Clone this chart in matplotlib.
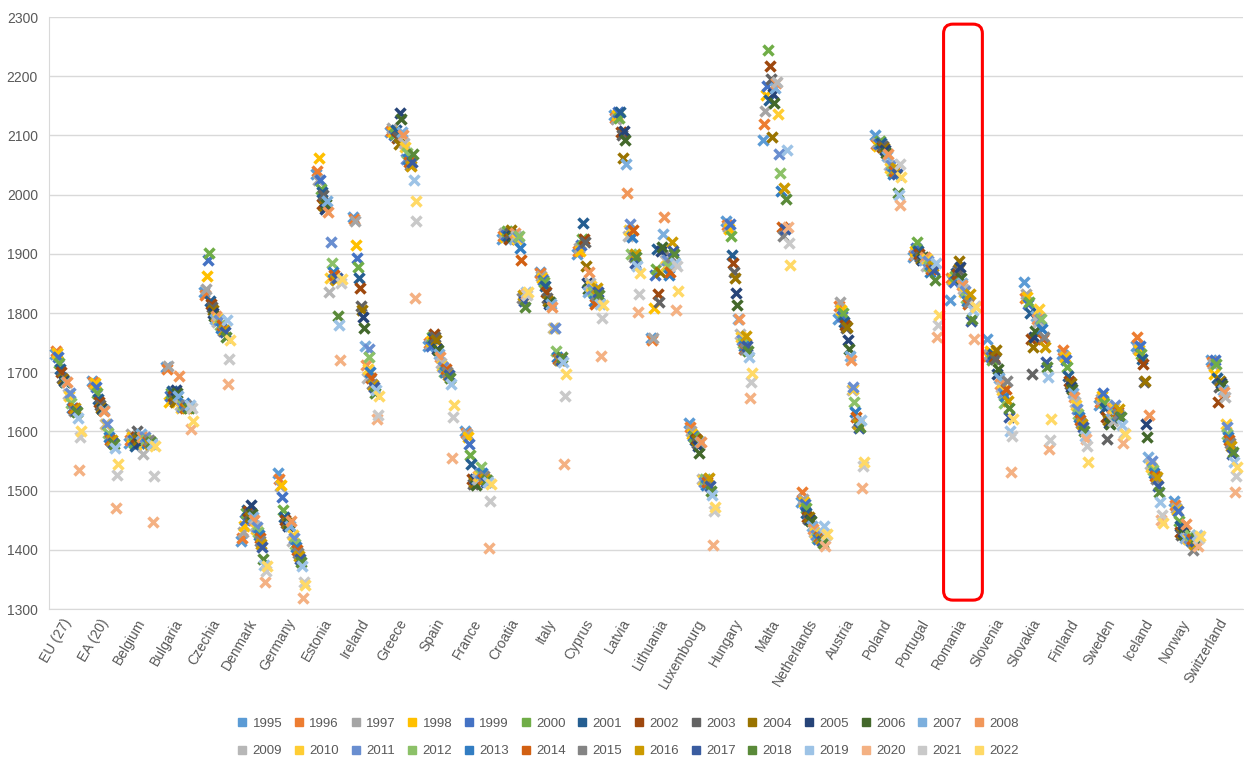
import numpy as np
import matplotlib
matplotlib.use("Agg")
import matplotlib.pyplot as plt
from matplotlib.lines import Line2D
from matplotlib.patches import FancyBboxPatch

# ── DATA ──────────────────────────────────────────────────────────────────────
countries = ["EU (27)", "EA (20)", "Belgium", "Bulgaria", "Czechia", "Denmark",
             "Germany", "Estonia", "Ireland", "Greece", "Spain", "France",
             "Croatia", "Italy", "Cyprus", "Latvia", "Lithuania", "Luxembourg",
             "Hungary", "Malta", "Netherlands", "Austria", "Poland", "Portugal",
             "Romania", "Slovenia", "Slovakia", "Finland", "Sweden", "Iceland",
             "Norway", "Switzerland"]
years = list(range(1995, 2023))

eu27 = [1730, 1735, 1732, 1733, 1725, 1715, 1705, 1700, 1690, 1688, 1685, 1683, 1683, 1683,
        1663, 1660, 1665, 1648, 1640, 1640, 1635, 1640, 1635, 1632, 1623, 1535, 1590, 1601]
ea20 = [1685, 1683, 1680, 1682, 1675, 1665, 1655, 1650, 1645, 1640, 1638, 1637, 1637, 1635,
        1613, 1612, 1612, 1598, 1590, 1585, 1583, 1585, 1580, 1578, 1572, 1470, 1527, 1545]
belgium = [1580, 1585, 1595, 1590, 1585, 1580, 1575, 1590, 1600, 1585, 1580, 1590, 1595, 1590,
           1562, 1578, 1590, 1585, 1580, 1583, 1585, 1578, 1580, 1582, 1578, 1447, 1525, 1575]
bulgaria = [1708, 1706, 1710, 1650, 1660, 1665, 1668, 1660, 1655, 1650, 1670, 1665, 1660, 1693,
            1645, 1640, 1642, 1645, 1648, 1640, 1645, 1640, 1642, 1640, 1645, 1604, 1640, 1618]
czechia = [1835, 1830, 1840, 1862, 1890, 1902, 1820, 1815, 1810, 1805, 1800, 1795, 1790, 1795,
           1785, 1790, 1788, 1780, 1775, 1780, 1770, 1772, 1768, 1760, 1789, 1680, 1722, 1755]
denmark = [1415, 1420, 1430, 1440, 1450, 1462, 1468, 1465, 1460, 1455, 1475, 1460, 1455, 1450,
           1440, 1435, 1438, 1430, 1425, 1420, 1415, 1410, 1405, 1385, 1375, 1345, 1365, 1372]
germany = [1530, 1520, 1508, 1510, 1490, 1467, 1455, 1450, 1445, 1445, 1440, 1445, 1440, 1449,
           1415, 1425, 1420, 1410, 1405, 1400, 1395, 1390, 1385, 1380, 1372, 1318, 1345, 1340]
estonia = [2035, 2040, 2025, 2062, 2025, 2010, 2005, 1985, 2000, 1980, 1975, 1985, 1990, 1970,
           1835, 1860, 1920, 1885, 1870, 1865, 1858, 1855, 1860, 1795, 1780, 1720, 1850, 1858]
ireland = [1962, 1958, 1955, 1915, 1893, 1878, 1860, 1842, 1812, 1805, 1793, 1774, 1745, 1712,
           1690, 1705, 1740, 1725, 1700, 1690, 1680, 1678, 1675, 1665, 1670, 1621, 1628, 1660]
greece = [2105, 2108, 2112, 2105, 2100, 2102, 2110, 2095, 2098, 2085, 2138, 2128, 2105, 2100,
          2088, 2080, 2060, 2070, 2060, 2055, 2050, 2048, 2055, 2068, 2025, 1826, 1955, 1990]
spain = [1745, 1750, 1748, 1752, 1745, 1760, 1758, 1765, 1760, 1755, 1740, 1738, 1730, 1725,
         1715, 1710, 1708, 1700, 1700, 1705, 1700, 1695, 1695, 1690, 1680, 1555, 1625, 1644]
france = [1600, 1598, 1595, 1590, 1578, 1560, 1545, 1520, 1512, 1515, 1520, 1510, 1520, 1525,
          1520, 1525, 1530, 1540, 1530, 1520, 1525, 1520, 1515, 1518, 1515, 1403, 1483, 1512]
croatia = [1925, 1930, 1935, 1928, 1932, 1938, 1930, 1925, 1935, 1940, 1930, 1928, 1925, 1935,
           1930, 1925, 1928, 1930, 1910, 1890, 1825, 1830, 1820, 1810, 1835, 1832, 1830, 1836]
italy = [1870, 1868, 1862, 1860, 1855, 1852, 1845, 1835, 1825, 1820, 1815, 1818, 1815, 1810,
         1775, 1775, 1775, 1735, 1725, 1722, 1720, 1720, 1720, 1725, 1718, 1545, 1660, 1697]
cyprus = [1900, 1905, 1910, 1905, 1915, 1925, 1952, 1925, 1920, 1880, 1850, 1840, 1835, 1870,
          1850, 1845, 1840, 1835, 1820, 1815, 1830, 1842, 1835, 1830, 1815, 1728, 1792, 1813]
latvia = [2135, 2130, 2128, 2135, 2140, 2130, 2140, 2105, 2100, 2062, 2108, 2092, 2052, 2002,
          1930, 1940, 1950, 1900, 1928, 1940, 1895, 1900, 1885, 1895, 1880, 1802, 1832, 1868]
lithuania = [1757, 1755, 1758, 1808, 1865, 1875, 1908, 1832, 1818, 1870, 1905, 1912, 1933, 1962,
             1890, 1880, 1890, 1880, 1865, 1870, 1895, 1920, 1905, 1900, 1885, 1805, 1880, 1838]
luxembourg = [1615, 1608, 1600, 1596, 1592, 1590, 1585, 1588, 1580, 1585, 1575, 1564, 1582, 1582,
              1520, 1518, 1515, 1520, 1510, 1515, 1520, 1522, 1508, 1500, 1492, 1408, 1466, 1472]
hungary = [1955, 1948, 1945, 1942, 1950, 1930, 1898, 1884, 1870, 1860, 1834, 1814, 1790, 1790,
           1765, 1760, 1755, 1750, 1745, 1740, 1740, 1762, 1745, 1735, 1725, 1656, 1683, 1698]
malta = [2092, 2119, 2142, 2168, 2183, 2245, 2160, 2217, 2195, 2098, 2170, 2155, 2180, 2188,
         2190, 2136, 2068, 2037, 2006, 1945, 1930, 2011, 1942, 1993, 2075, 1945, 1918, 1881]
netherlands = [1480, 1497, 1485, 1480, 1478, 1470, 1462, 1455, 1452, 1455, 1450, 1448, 1440, 1435,
               1430, 1428, 1425, 1420, 1418, 1422, 1420, 1418, 1415, 1412, 1441, 1407, 1425, 1427]
austria = [1790, 1812, 1818, 1805, 1795, 1800, 1785, 1780, 1775, 1776, 1754, 1739, 1728, 1720,
           1670, 1672, 1675, 1650, 1632, 1625, 1615, 1612, 1605, 1608, 1620, 1504, 1542, 1548]
poland = [2100, 2085, 2088, 2082, 2085, 2090, 2088, 2080, 2082, 2078, 2075, 2070, 2065, 2068,
          2050, 2045, 2050, 2040, 2035, 2040, 2045, 2045, 2035, 2003, 2000, 1982, 2052, 2030]
portugal = [1895, 1898, 1900, 1905, 1910, 1920, 1905, 1900, 1895, 1892, 1890, 1895, 1890, 1895,
            1880, 1892, 1888, 1880, 1870, 1875, 1878, 1880, 1872, 1855, 1885, 1760, 1779, 1796]
romania = [1822, 1860, 1855, 1858, 1852, 1862, 1868, 1866, 1872, 1888, 1878, 1860, 1850, 1848,
           1840, 1835, 1838, 1825, 1820, 1815, 1818, 1832, 1787, 1790, 1805, 1756, 1812, 1810]
slovenia = [1756, 1728, 1730, 1735, 1725, 1720, 1730, 1725, 1722, 1738, 1697, 1705, 1690, 1680,
            1675, 1670, 1665, 1648, 1660, 1672, 1685, 1652, 1624, 1640, 1601, 1531, 1593, 1621]
slovakia = [1852, 1825, 1832, 1827, 1815, 1818, 1800, 1756, 1697, 1742, 1760, 1770, 1795, 1790,
            1785, 1807, 1790, 1790, 1773, 1756, 1759, 1742, 1717, 1708, 1692, 1570, 1585, 1621]
finland = [1730, 1737, 1728, 1725, 1720, 1708, 1694, 1686, 1680, 1682, 1675, 1672, 1665, 1658,
           1650, 1644, 1638, 1630, 1625, 1620, 1615, 1613, 1608, 1601, 1593, 1587, 1576, 1548]
sweden = [1645, 1650, 1655, 1660, 1665, 1648, 1640, 1625, 1588, 1620, 1615, 1612, 1635, 1640,
          1618, 1640, 1645, 1630, 1628, 1632, 1630, 1638, 1625, 1624, 1610, 1580, 1598, 1596]
iceland = [1745, 1760, 1740, 1738, 1745, 1731, 1722, 1714, 1683, 1686, 1613, 1590, 1556, 1627,
           1545, 1540, 1550, 1535, 1530, 1525, 1520, 1523, 1508, 1497, 1480, 1450, 1458, 1446]
norway = [1483, 1475, 1470, 1468, 1466, 1449, 1440, 1430, 1425, 1428, 1430, 1425, 1420, 1444,
          1420, 1418, 1420, 1425, 1415, 1418, 1400, 1410, 1415, 1420, 1425, 1407, 1420, 1424]
switzerland = [1720, 1718, 1714, 1697, 1720, 1714, 1690, 1649, 1675, 1685, 1682, 1678, 1670, 1666,
               1658, 1612, 1607, 1595, 1590, 1585, 1580, 1576, 1562, 1565, 1548, 1497, 1525, 1540]

by_country = [eu27, ea20, belgium, bulgaria, czechia, denmark, germany, estonia, ireland,
              greece, spain, france, croatia, italy, cyprus, latvia, lithuania, luxembourg,
              hungary, malta, netherlands, austria, poland, portugal, romania, slovenia,
              slovakia, finland, sweden, iceland, norway, switzerland]

# Excel-style palette, one colour per year
colors = ["#5B9BD5", "#ED7D31", "#A5A5A5", "#FFC000", "#4472C4", "#70AD47",
          "#255E91", "#9E480E", "#636363", "#997300", "#264478", "#43682B",
          "#7CAFDD", "#F1975A", "#B7B7B7", "#FFCD33", "#698ED0", "#8CC168",
          "#327DC2", "#D26012", "#848484", "#CC9A00", "#3A5CA0", "#5A8A39",
          "#9DC3E6", "#F4B183", "#C9C9C9", "#FFD966"]

highlight = "Romania"

# ── PLOT ──────────────────────────────────────────────────────────────────────
plt.rcParams['font.family'] = ['Liberation Sans', 'DejaVu Sans']
txt = "#595959"
grid = "#D9D9D9"

values = np.array(by_country)          # (countries, years)
xbase = np.arange(len(countries))

fig = plt.figure(figsize=(12.44, 7.57), dpi=100)
ax = fig.add_axes([0.0394, 0.1955, 0.9596, 0.782])

for j, yr in enumerate(years):
    off = (j - (len(years) - 1) / 2) * 0.026
    ax.plot(xbase + off, values[:, j], ls="none", marker="x", ms=7, mew=2.5,
            color=colors[j], label=str(yr), zorder=3)

ax.set_xlim(-0.5, len(countries) - 0.5)
ax.set_ylim(1300, 2300)
ax.set_yticks(range(1300, 2301, 100))
ax.set_xticks(xbase)
ax.set_xticklabels(countries, rotation=60, ha="right", va="center",
                   rotation_mode="anchor", fontsize=10, color=txt)
ax.tick_params(axis="x", length=0, pad=8)
ax.tick_params(axis="y", length=0, pad=8, labelsize=10, labelcolor=txt)
ax.grid(axis="y", color=grid, lw=1)
ax.set_axisbelow(True)
for s in ["top", "right"]:
    ax.spines[s].set_visible(False)
for s in ["left", "bottom"]:
    ax.spines[s].set_color(grid)

# red rounded frame around the highlighted country
i = countries.index(highlight)
px_x = ax.get_position().width * 1244 / len(countries)
px_y = ax.get_position().height * 757 / 1000
box = FancyBboxPatch((i - 0.52, 1315), 1.04, 973,
                     boxstyle="round,pad=0,rounding_size=0.25",
                     mutation_aspect=px_x / px_y, ec="#FF0000", fc="none",
                     lw=2.2, transform=ax.transData, clip_on=False, zorder=5)
ax.add_patch(box)

# legend: two rows, filled row by row like Excel
ncol = 14
handles = [Line2D([], [], ls="none", marker="s", ms=6, color=c) for c in colors]
labels = [str(y) for y in years]
order = [r * ncol + c for c in range(ncol) for r in range(2)]
fig.legend([handles[k] for k in order], [labels[k] for k in order],
           loc="center", ncol=ncol, bbox_to_anchor=(0.505, 0.026),
           frameon=False, fontsize=9.5, handlelength=0.7, handletextpad=0.45,
           columnspacing=0.9, labelspacing=1.15, labelcolor=txt)

fig.savefig("out.png", dpi=100)
